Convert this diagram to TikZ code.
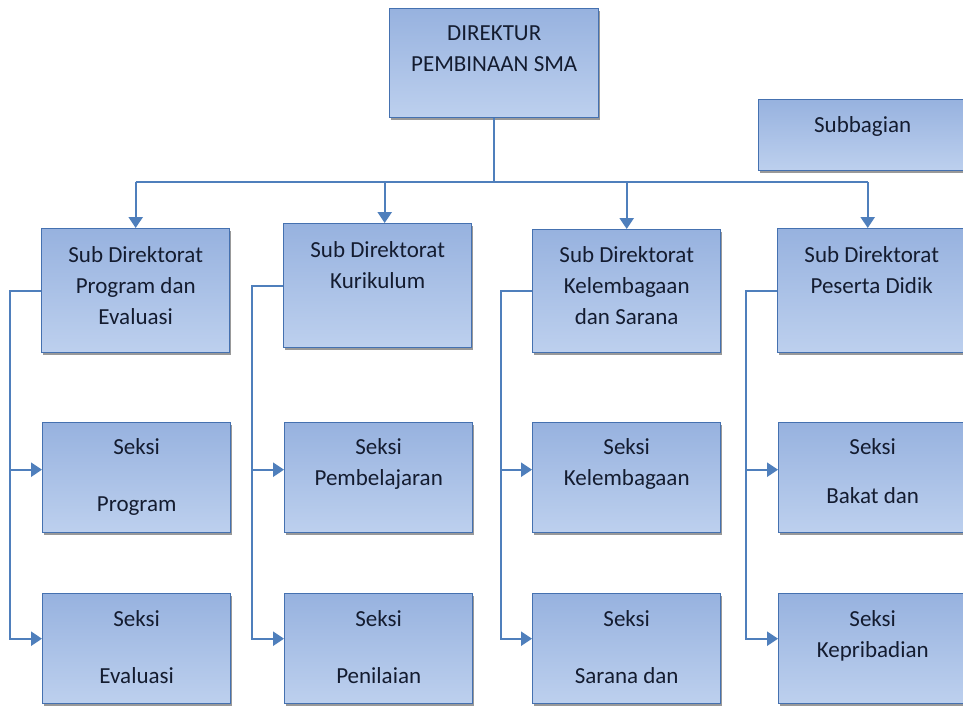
\documentclass[tikz,border=0pt]{standalone}
\usepackage{fontspec}
\setmainfont{Carlito}
\usetikzlibrary{arrows.meta,shadows}
\definecolor{boxedge}{HTML}{4571B0}
\definecolor{boxtop}{HTML}{97B2DF}
\definecolor{boxbot}{HTML}{BDD0EE}
\definecolor{wire}{HTML}{4F7FBC}
\definecolor{ink}{HTML}{141C30}
% #1 width, #2 height, #3 first baseline below top, #4 lines
\newcommand\boxlines[4]{\parbox[c][#2][t]{#1}{\centering\rule{0pt}{#3}#4}}
\begin{document}
\begin{tikzpicture}[x=1pt,y=-1pt,
  orgbox/.style={draw=boxedge, line width=1.4pt, top color=boxtop, bottom color=boxbot,
    inner sep=0pt, anchor=north west, text=ink,
    font=\fontsize{23}{31}\selectfont,
    drop shadow={shadow xshift=1.2pt, shadow yshift=-2.2pt, opacity=0.4, fill=black}},
  link/.style={wire, line width=2.2pt},
  feed/.style={link, -{Triangle[width=14pt,length=11pt]}}]
\clip (0,0) rectangle (963,709);
\fill[white] (0,0) rectangle (963,709);

% top level
\node[orgbox] (dir) at (389,8) {\boxlines{209pt}{109pt}{32pt}{DIREKTUR\\PEMBINAAN SMA}};
\node[orgbox] (sub) at (758,99) {\boxlines{208pt}{71pt}{33pt}{Subbagian}};

% sub directorates
\node[orgbox] (sd1) at (41,228) {\boxlines{188pt}{124pt}{34pt}{Sub Direktorat\\Program dan\\Evaluasi}};
\node[orgbox] (sd2) at (283,223) {\boxlines{188pt}{124pt}{34pt}{Sub Direktorat\\Kurikulum}};
\node[orgbox] (sd3) at (532,229) {\boxlines{188pt}{123pt}{33pt}{Sub Direktorat\\Kelembagaan\\dan Sarana}};
\node[orgbox] (sd4) at (777,228) {\boxlines{188pt}{124pt}{34pt}{Sub Direktorat\\Peserta Didik}};

% sections, first row
\node[orgbox] (sa1) at (42,422) {\boxlines{188pt}{110pt}{32pt}{Seksi\\[26pt]Program}};
\node[orgbox] (sa2) at (284,422) {\boxlines{188pt}{110pt}{32pt}{Seksi\\Pembelajaran}};
\node[orgbox] (sa3) at (532,422) {\boxlines{188pt}{110pt}{32pt}{Seksi\\Kelembagaan}};
\node[orgbox] (sa4) at (778,422) {\boxlines{188pt}{110pt}{32pt}{Seksi\\[18pt]Bakat dan}};

% sections, second row
\node[orgbox] (sb1) at (42,593) {\boxlines{188pt}{110pt}{33pt}{Seksi\\[26pt]Evaluasi}};
\node[orgbox] (sb2) at (284,593) {\boxlines{188pt}{110pt}{33pt}{Seksi\\[26pt]Penilaian}};
\node[orgbox] (sb3) at (532,593) {\boxlines{188pt}{110pt}{33pt}{Seksi\\[26pt]Sarana dan}};
\node[orgbox] (sb4) at (778,593) {\boxlines{188pt}{110pt}{33pt}{Seksi\\Kepribadian}};

% bus from the director to the sub directorates
\coordinate (bus) at (dir.south |- 0,182);
\coordinate (t1) at (sd1.north);
\coordinate (t2) at ([xshift=7pt]sd2.north);
\coordinate (t3) at (sd3.north);
\coordinate (t4) at ([xshift=-4pt]sd4.north);
\draw[link] (dir.south) -- (bus);
\draw[link] (t1 |- bus) -- (t4 |- bus);
\foreach \i in {1,...,4} \draw[feed] (t\i |- bus) -- (t\i);

% feeders from each sub directorate to its sections
\foreach \i in {1,...,4} {
  \draw[feed] (sd\i.west) -- ++(-31,0) coordinate (v\i) |- ([yshift=10pt]sb\i.west);
  \draw[feed] ([yshift=8pt]sa\i.west -| v\i) -- ([yshift=8pt]sa\i.west);
}
\end{tikzpicture}
\end{document}
